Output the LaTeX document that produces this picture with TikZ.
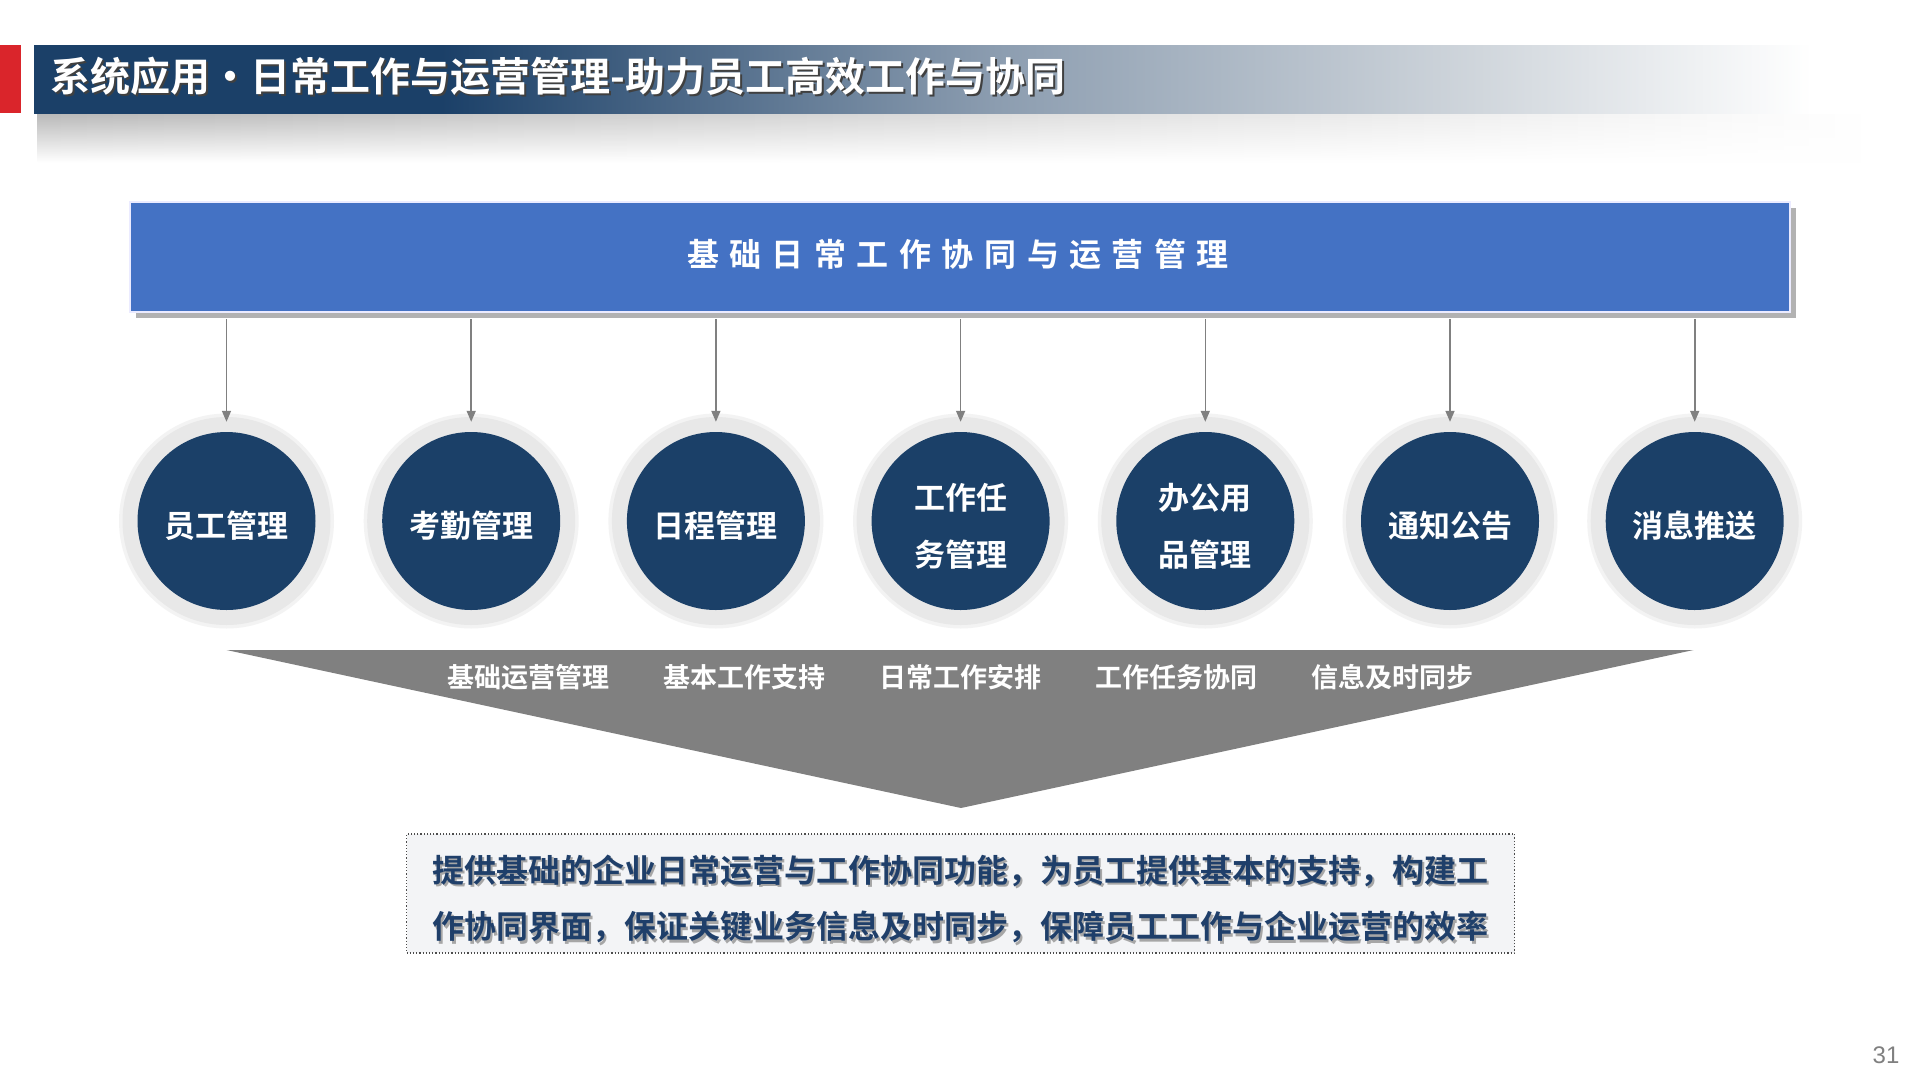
\documentclass[tikz,border=0pt]{standalone}
\usepackage{fontspec}
\setmainfont{Noto Sans CJK SC}[BoldFont={Noto Sans CJK SC Bold}]
\newfontfamily\numfont{Liberation Sans}
\usetikzlibrary{fadings,arrows.meta}
\definecolor{navy}{RGB}{27,64,104}
\definecolor{barblue}{RGB}{68,114,196}
\definecolor{ringgray}{RGB}{232,232,232}
\definecolor{ringglow}{RGB}{243,243,243}
\definecolor{arrgray}{RGB}{128,128,128}
\definecolor{txtnavy}{RGB}{31,63,106}
\definecolor{boxfill}{RGB}{243,244,246}
\definecolor{titlered}{RGB}{218,37,43}
\definecolor{tmid}{RGB}{140,157,176}
\definecolor{tlight}{RGB}{208,214,220}
\pgfdeclarehorizontalshading{titleshade}{100bp}{color(0bp)=(navy); color(25bp)=(navy); color(36bp)=(navy); color(51bp)=(tmid); color(64bp)=(tlight); color(73bp)=(white); color(100bp)=(white)}
\tikzfading[name=fadedown, top color=transparent!0, bottom color=transparent!100]
\newcommand\hs{\hspace{10.5pt}}
\tikzset{
  ring/.style={circle, fill=ringgray, minimum size=208pt, inner sep=0pt},
  glow/.style={circle, fill=ringglow, minimum size=215pt, inner sep=0pt},
  disc/.style={circle, fill=navy, minimum size=178pt, inner sep=0pt},
  disctext/.style={text=white, align=center, font=\bfseries\fontsize{31}{57}\selectfont},
  arr/.style={draw=arrgray, line width=1.6pt, -{Triangle[length=11pt,width=9pt]}},
  tri/.style={text=white, font=\bfseries\fontsize{27}{27}\selectfont},
  desc/.style={text=txtnavy, font=\bfseries\fontsize{32}{32}\selectfont},
  descsh/.style={text=black!35, font=\bfseries\fontsize{32}{32}\selectfont}
}
\begin{document}
\begin{tikzpicture}[x=1pt,y=-1pt]
\useasboundingbox (0,0) rectangle (1920,1080);
\fill[white] (0,0) rectangle (1920,1080);
% title bar
\shade[left color=black!28, right color=white, path fading=fadedown] (40,113) rectangle (1880,162);
\fill[titlered] (0,45) rectangle (21,113);
\shade[shading=titleshade] (34,45) rectangle (1886,113);
\node[anchor=west, text=black!75, font=\bfseries\fontsize{40}{40}\selectfont] at (49,78) {系统应用・日常工作与运营管理-助力员工高效工作与协同};
\node[anchor=west, text=white, font=\bfseries\fontsize{40}{40}\selectfont] (title) at (47,76) {系统应用・日常工作与运营管理-助力员工高效工作与协同};
% top box
\fill[black!30] (136,208) rectangle (1796,318);
\node[fill=barblue, draw=blue!8!white, line width=2pt, minimum width=1660pt, minimum height=110pt, inner sep=0pt] (top) at (960,257) {};
\node[text=white, font=\bfseries\fontsize{32}{32}\selectfont] (toptext) at (958,254.5)
  {基\hs 础\hs 日\hs 常\hs 工\hs 作\hs 协\hs 同\hs 与\hs 运\hs 营\hs 管\hs 理};
% circles
\foreach \i/\t in {1/员工管理, 2/考勤管理, 3/日程管理, 4/{工作任\\务管理}, 5/{办公用\\品管理}, 6/通知公告, 7/消息推送}{
  \pgfmathsetmacro\xx{226.5+244.7*(\i-1)}
  \node[glow] (g\i) at (\xx,521) {};
  \node[ring] (o\i) at (\xx,521) {};
  \node[disc] (c\i) at (\xx,521) {};
  \node[disctext] (t\i) at (\xx,526) {\t};
  \draw[arr] (top.south -| o\i) ++(0,6) -- ([yshift=-5pt]o\i.north);
}
% triangle
\coordinate (tl) at (226.5,650);
\coordinate (tr) at (1693.5,650);
\coordinate (tb) at (961,808);
\fill[arrgray] (tl) -- (tr) -- (tb) -- cycle;
\node[tri] (l1) at (528,677) {基础运营管理};
\node[tri] (l2) at (744,677) {基本工作支持};
\node[tri] (l3) at (960,677) {日常工作安排};
\node[tri] (l4) at (1176,677) {工作任务协同};
\node[tri] (l5) at (1392,677) {信息及时同步};
% description box
\node[draw=black!70, dotted, line width=1.2pt, fill=boxfill, minimum width=1108pt, minimum height=119pt, inner sep=0pt] (box) at (960.6,893.5) {};
\node[descsh] at (962.5,873) {提供基础的企业日常运营与工作协同功能，为员工提供基本的支持，构建工};
\node[desc] (d1) at (960.5,870.5) {提供基础的企业日常运营与工作协同功能，为员工提供基本的支持，构建工};
\node[descsh] at (962.5,929.5) {作协同界面，保证关键业务信息及时同步，保障员工工作与企业运营的效率};
\node[desc] (d2) at (960.5,927) {作协同界面，保证关键业务信息及时同步，保障员工工作与企业运营的效率};
% page number
\node[text=black!50, font=\numfont\fontsize{24}{24}\selectfont] (pg) at (1886,1055) {31};
\end{tikzpicture}
\end{document}
